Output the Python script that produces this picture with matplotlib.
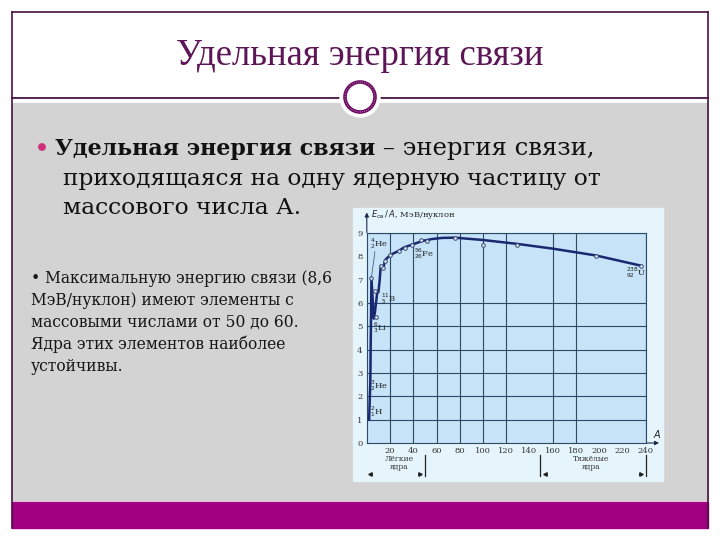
import numpy as np
import matplotlib.pyplot as plt
from matplotlib.patches import Rectangle, Circle

# данные кривой удельной энергии связи (по картинке)
A_line = [2, 3, 4, 6, 7, 9, 10, 11, 12, 14, 16, 20, 28, 32, 40, 48, 56, 65, 76, 100, 130, 160, 197, 236]
E_line = [1.0, 2.57, 7.07, 5.33, 5.6, 6.46, 6.47, 6.93, 7.6, 7.48, 7.85, 8.05, 8.25, 8.38,
          8.52, 8.66, 8.74, 8.79, 8.8, 8.7, 8.53, 8.33, 8.04, 7.6]
A_pts = [4, 7, 8, 12, 14, 16, 20, 28, 33, 39, 47, 52, 76, 100, 129, 197, 236]
E_pts = [7.07, 6.5, 5.4, 7.6, 7.5, 7.82, 8.07, 8.21, 8.35, 8.5, 8.71, 8.64, 8.78, 8.5, 8.5, 8.0, 7.6]

x_ticks = [20, 40, 60, 80, 100, 120, 140, 160, 180, 200, 220, 240]
y_ticks = [0, 1, 2, 3, 4, 5, 6, 7, 8, 9]
x_grid = [20, 40, 60, 80, 100, 120, 160, 180, 240]
y_grid = [1, 2, 3, 4, 5, 6, 9]

isotopes = ["$^{2}_{1}$H", "$^{3}_{2}$He", "$^{4}_{2}$He", "$^{6}_{3}$Li", "$^{11}_{5}$B",
            "$^{56}_{26}$Fe", "$^{238}_{92}$U"]
iso_A = [3, 3, 3, 5, 12, 41, 223]
iso_E = [1.35, 2.45, 8.55, 4.95, 6.2, 8.1, 7.3]

title = "Удельная энергия связи"
bold_part = "Удельная энергия связи"
rest_part = " – энергия связи,"
main_lines = ["приходящаяся на одну ядерную частицу от", "массового числа А."]
side_lines = ["• Максимальную энергию связи (8,6", "МэВ/нуклон) имеют элементы с",
              "массовыми числами от 50 до 60.", "Ядра этих элементов наиболее", "устойчивы."]

purple = '#4a1045'
fig = plt.figure(figsize=(7.2, 5.4), dpi=100)
fig.patch.set_facecolor('white')

bg = fig.add_axes([0, 0, 1, 1])
bg.set_xlim(0, 720)
bg.set_ylim(540, 0)
bg.axis('off')

# фон слайда
bg.add_patch(Rectangle((12, 103), 696, 397, color='#d3d3d3', zorder=0))
bg.add_patch(Rectangle((12, 502), 696, 26, color='#a0007f', zorder=0))
bg.plot([12, 12], [12, 528], color=purple, lw=1.2)
bg.plot([708, 708], [12, 528], color=purple, lw=1.2)
bg.plot([12, 708], [12, 12], color=purple, lw=1.2)
bg.plot([12, 708], [98, 98], color=purple, lw=1.3)
bg.add_patch(Circle((360, 97), 20, color='white', zorder=3))
bg.add_patch(Circle((360, 97), 15, fill=False, ec='#6a0a60', lw=2.6, zorder=4))
bg.add_patch(Circle((360, 97), 15, fill=False, ec='#d8a0d0', lw=0.6, ls=':', zorder=5))

bg.text(360, 56, title, ha='center', va='center', fontsize=26.5,
        family='Liberation Serif', color='#5c1557')

# основной пункт
bg.add_patch(Circle((42, 147), 3.2, color='#d0307a', zorder=3))
t = bg.text(55, 155, bold_part, ha='left', va='baseline', fontsize=15.9,
            family='DejaVu Serif', weight='bold', color='#111111')
bg.annotate(rest_part, xy=(1, 155), xycoords=(t, 'data'), ha='left', va='baseline',
            fontsize=17.6, family='DejaVu Serif', color='#111111')
for i, s in enumerate(main_lines):
    bg.text(63, 185 + 29 * i, s, ha='left', va='baseline', fontsize=16.8,
            family='DejaVu Serif', color='#111111')

for i, s in enumerate(side_lines):
    bg.text(31, 283 + 22 * i, s, ha='left', va='baseline', fontsize=11.2,
            family='DejaVu Serif', color='#151515')

# картинка графика
bg.add_patch(Rectangle((353, 208), 310, 273, color='#e6f5fb', zorder=1))

ax = fig.add_axes([366.8 / 720, 1 - 443 / 540, 278.8 / 720, 210 / 540])
ax.set_facecolor('#c6e3f7')
ax.set_xlim(0, 240)
ax.set_ylim(0, 9)
for sp in ax.spines.values():
    sp.set_color('#2b4a66')
    sp.set_linewidth(0.8)
for xg in x_grid:
    ax.axvline(xg, color='#2b4a66', lw=0.8, zorder=1)
for yg in y_grid:
    ax.axhline(yg, color='#2b4a66', lw=0.8, zorder=1)

ax.plot(A_line, E_line, color='#1a2870', lw=1.8, zorder=3)
ax.plot(A_pts, E_pts, 'o', ms=2.6, mfc='#dcecf8', mec='#3a4a70', mew=0.7, zorder=4)
ax.plot([7, 4], [8.2, 7.1], color='#3a4a70', lw=0.5, zorder=4)
for s, a, e in zip(isotopes, iso_A, iso_E):
    ax.text(a, e, s, fontsize=6, ha='left', va='center', color='#222222',
            family='DejaVu Serif', zorder=5)

ax.set_xticks(x_ticks)
ax.set_yticks(y_ticks)
ax.tick_params(length=0, labelsize=6, colors='#333333', pad=3)
for lab in ax.get_xticklabels() + ax.get_yticklabels():
    lab.set_family('DejaVu Serif')

# стрелки осей и подписи
ax.annotate('', xy=(0, 10.0), xytext=(0, 8.9), annotation_clip=False,
            arrowprops=dict(arrowstyle='-|>', color='#1a2a4a', lw=0.8, mutation_scale=6))
ax.annotate('', xy=(254, 0), xytext=(239, 0), annotation_clip=False,
            arrowprops=dict(arrowstyle='-|>', color='#1a2a4a', lw=0.8, mutation_scale=6))
ax.text(4, 9.8, "$E_{\\rm св}\\,/\\,A$, МэВ/нуклон", fontsize=6, va='center',
        color='#222222', family='DejaVu Serif', clip_on=False)
ax.text(250, 0.4, "$A$", fontsize=7, ha='center', va='center', color='#222222', clip_on=False)

ax.text(28, -0.85, "Лёгкие\nядра", fontsize=5.5, ha='center', va='center',
        color='#333333', linespacing=1.0, family='DejaVu Serif', clip_on=False)
ax.text(193, -0.85, "Тяжёлые\nядра", fontsize=5.5, ha='center', va='center',
        color='#333333', linespacing=1.0, family='DejaVu Serif', clip_on=False)
for xb in [50, 149, 240]:
    ax.plot([xb, xb], [-0.5, -1.42], color='#222222', lw=0.9, clip_on=False)
ax.plot([3, 153], [-1.33, -1.33], '<', ms=2.5, color='#222222', clip_on=False)
ax.plot([46, 236], [-1.33, -1.33], '>', ms=2.5, color='#222222', clip_on=False)

fig.savefig('out.png', dpi=100)
